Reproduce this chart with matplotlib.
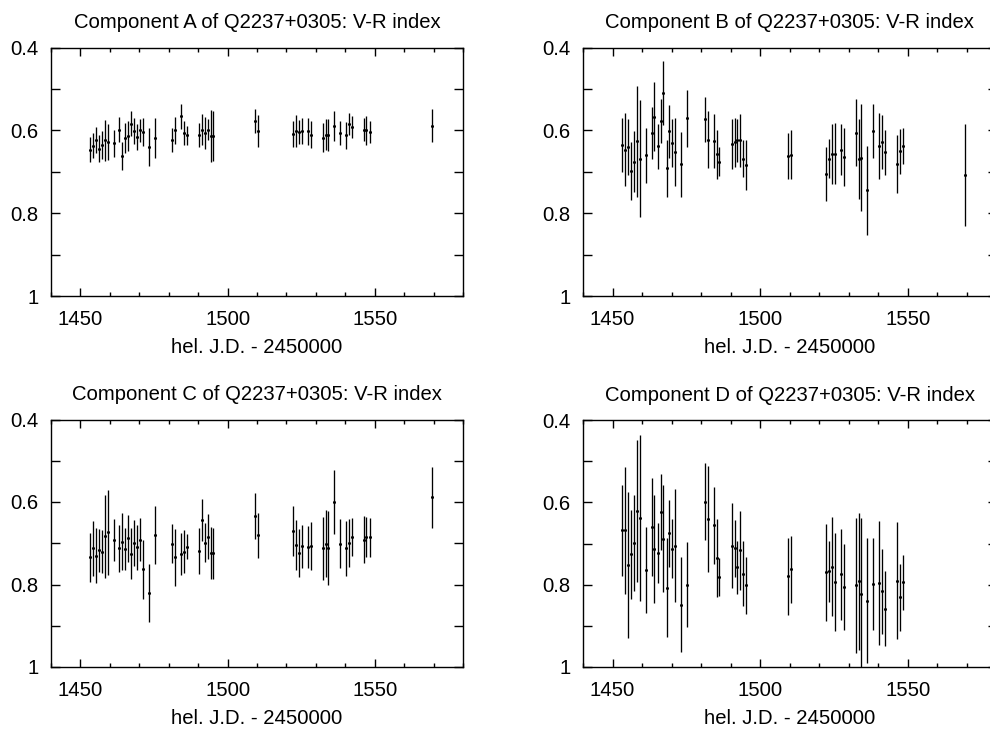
import matplotlib
matplotlib.use("Agg")
import matplotlib.pyplot as plt
from matplotlib.ticker import FixedLocator, MultipleLocator, FixedFormatter

plt.rcParams['font.family'] = ['Liberation Sans', 'DejaVu Sans']

# Observation epochs (hel. J.D. - 2450000)
jd = [1453.2, 1454.3, 1455.4, 1456.3, 1457.3, 1458.4, 1459.4, 1461.4, 1463.2, 1464.2,
      1465.3, 1466.3, 1467.2, 1468.3, 1469.2, 1470.2, 1471.3, 1473.3, 1475.3, 1481.2,
      1482.2, 1484.3, 1485.3, 1486.2, 1490.3, 1491.3, 1492.3, 1493.2, 1494.2, 1495.2,
      1509.4, 1510.3, 1522.2, 1523.2, 1524.2, 1525.2, 1527.3, 1528.3, 1532.4, 1533.3,
      1534.2, 1536.2, 1538.2, 1540.3, 1541.2, 1542.2, 1546.2, 1547.2, 1548.3, 1569.3]

a_val = [0.646, 0.637, 0.623, 0.644, 0.635, 0.624, 0.628, 0.631, 0.598, 0.661,
         0.619, 0.614, 0.584, 0.602, 0.616, 0.600, 0.604, 0.640, 0.619, 0.623,
         0.600, 0.566, 0.606, 0.612, 0.611, 0.598, 0.606, 0.598, 0.614, 0.614,
         0.576, 0.601, 0.608, 0.602, 0.604, 0.602, 0.602, 0.610, 0.617, 0.610,
         0.611, 0.589, 0.606, 0.612, 0.584, 0.592, 0.598, 0.600, 0.604, 0.589]
a_err = [0.030, 0.030, 0.032, 0.032, 0.033, 0.049, 0.044, 0.032, 0.030, 0.034,
         0.036, 0.036, 0.030, 0.031, 0.032, 0.028, 0.033, 0.046, 0.048, 0.028,
         0.033, 0.031, 0.028, 0.022, 0.030, 0.038, 0.038, 0.025, 0.063, 0.060,
         0.029, 0.038, 0.032, 0.039, 0.029, 0.031, 0.033, 0.033, 0.034, 0.037,
         0.038, 0.036, 0.028, 0.032, 0.027, 0.027, 0.028, 0.035, 0.026, 0.040]

b_val = [0.636, 0.646, 0.640, 0.698, 0.675, 0.626, 0.668, 0.660, 0.606, 0.567,
         0.638, 0.577, 0.510, 0.691, 0.602, 0.631, 0.653, 0.682, 0.571, 0.573,
         0.622, 0.625, 0.658, 0.676, 0.633, 0.629, 0.624, 0.624, 0.668, 0.683,
         0.662, 0.659, 0.705, 0.668, 0.657, 0.656, 0.646, 0.664, 0.605, 0.669,
         0.666, 0.745, 0.602, 0.637, 0.628, 0.653, 0.681, 0.650, 0.637, 0.707]
b_err = [0.065, 0.088, 0.068, 0.070, 0.073, 0.134, 0.142, 0.066, 0.063, 0.083,
         0.054, 0.054, 0.077, 0.069, 0.064, 0.058, 0.082, 0.079, 0.069, 0.054,
         0.069, 0.065, 0.060, 0.035, 0.061, 0.060, 0.052, 0.064, 0.045, 0.060,
         0.056, 0.059, 0.066, 0.048, 0.073, 0.073, 0.062, 0.070, 0.082, 0.096,
         0.129, 0.107, 0.065, 0.080, 0.065, 0.054, 0.071, 0.054, 0.044, 0.123]

c_val = [0.734, 0.712, 0.730, 0.717, 0.721, 0.683, 0.673, 0.693, 0.712, 0.696,
         0.713, 0.688, 0.725, 0.699, 0.710, 0.691, 0.763, 0.820, 0.680, 0.701,
         0.734, 0.726, 0.720, 0.708, 0.718, 0.643, 0.699, 0.684, 0.723, 0.724,
         0.633, 0.681, 0.670, 0.704, 0.723, 0.707, 0.709, 0.707, 0.712, 0.701,
         0.712, 0.600, 0.701, 0.712, 0.699, 0.685, 0.691, 0.685, 0.686, 0.589]
c_err = [0.059, 0.067, 0.066, 0.052, 0.052, 0.101, 0.103, 0.051, 0.057, 0.069,
         0.051, 0.057, 0.062, 0.056, 0.054, 0.053, 0.072, 0.070, 0.071, 0.048,
         0.069, 0.050, 0.051, 0.030, 0.056, 0.051, 0.047, 0.054, 0.063, 0.062,
         0.056, 0.055, 0.060, 0.060, 0.058, 0.052, 0.052, 0.058, 0.076, 0.081,
         0.089, 0.077, 0.060, 0.067, 0.058, 0.047, 0.056, 0.048, 0.047, 0.073]

# component D has no measurement at the last epoch
d_val = [0.668, 0.668, 0.752, 0.726, 0.698, 0.621, 0.638, 0.764, 0.660, 0.713,
         0.723, 0.623, 0.689, 0.807, 0.675, 0.713, 0.705, 0.849, 0.800, 0.598,
         0.640, 0.656, 0.735, 0.781, 0.705, 0.712, 0.758, 0.717, 0.773, 0.802,
         0.780, 0.763, 0.770, 0.767, 0.756, 0.793, 0.775, 0.806, 0.802, 0.792,
         0.822, 0.839, 0.799, 0.796, 0.816, 0.858, 0.790, 0.831, 0.794]
d_err = [0.111, 0.155, 0.177, 0.108, 0.117, 0.173, 0.202, 0.104, 0.118, 0.132,
         0.072, 0.093, 0.130, 0.120, 0.081, 0.072, 0.137, 0.115, 0.104, 0.094,
         0.129, 0.093, 0.095, 0.046, 0.103, 0.069, 0.064, 0.097, 0.078, 0.069,
         0.093, 0.081, 0.118, 0.074, 0.120, 0.119, 0.110, 0.105, 0.164, 0.167,
         0.183, 0.152, 0.112, 0.150, 0.103, 0.091, 0.143, 0.082, 0.067]

panels = [
    ("Component A of Q2237+0305: V-R index", jd, a_val, a_err),
    ("Component B of Q2237+0305: V-R index", jd, b_val, b_err),
    ("Component C of Q2237+0305: V-R index", jd, c_val, c_err),
    ("Component D of Q2237+0305: V-R index", jd[:len(d_val)], d_val, d_err),
]

W, H = 990, 735
fig = plt.figure(figsize=(W / 100, H / 100), dpi=100)

# axes rectangles in pixels: left, top, right, bottom
rects = [(51, 47.7, 463, 296), (583, 47.7, 996.5, 296),
         (51, 419.5, 463, 667), (583, 420, 996.5, 667)]

fs = 14.6
for (title, x, v, e), (l, t, r, b) in zip(panels, rects):
    ax = fig.add_axes([l / W, 1 - b / H, (r - l) / W, (b - t) / H])
    ax.errorbar(x, v, yerr=e, fmt='o', color='black', ms=2.2, mew=0,
                elinewidth=0.95, capsize=2.4, capthick=0.95, clip_on=True)
    ax.set_xlim(1440, 1580)
    ax.set_ylim(1.0, 0.4)
    ax.xaxis.set_major_locator(FixedLocator([1450, 1500, 1550]))
    ax.xaxis.set_minor_locator(MultipleLocator(10))
    ax.yaxis.set_major_locator(FixedLocator([0.4, 0.6, 0.8, 1.0]))
    ax.yaxis.set_major_formatter(FixedFormatter(['0.4', '0.6', '0.8', '1']))
    ax.yaxis.set_minor_locator(FixedLocator([0.5, 0.7, 0.9]))
    ax.tick_params(axis='both', which='both', direction='in', top=True, right=True,
                   width=1.0, labelsize=fs)
    ax.tick_params(axis='x', which='major', length=6, pad=10)
    ax.tick_params(axis='x', which='minor', length=3)
    ax.tick_params(axis='y', which='both', length=6.5, pad=9)
    for s in ax.spines.values():
        s.set_linewidth(1.0)
    ax.set_title(title, fontsize=fs, pad=14)
    ax.set_xlabel("hel. J.D. - 2450000", fontsize=fs, labelpad=6.5)

fig.savefig("out.png", dpi=100)
